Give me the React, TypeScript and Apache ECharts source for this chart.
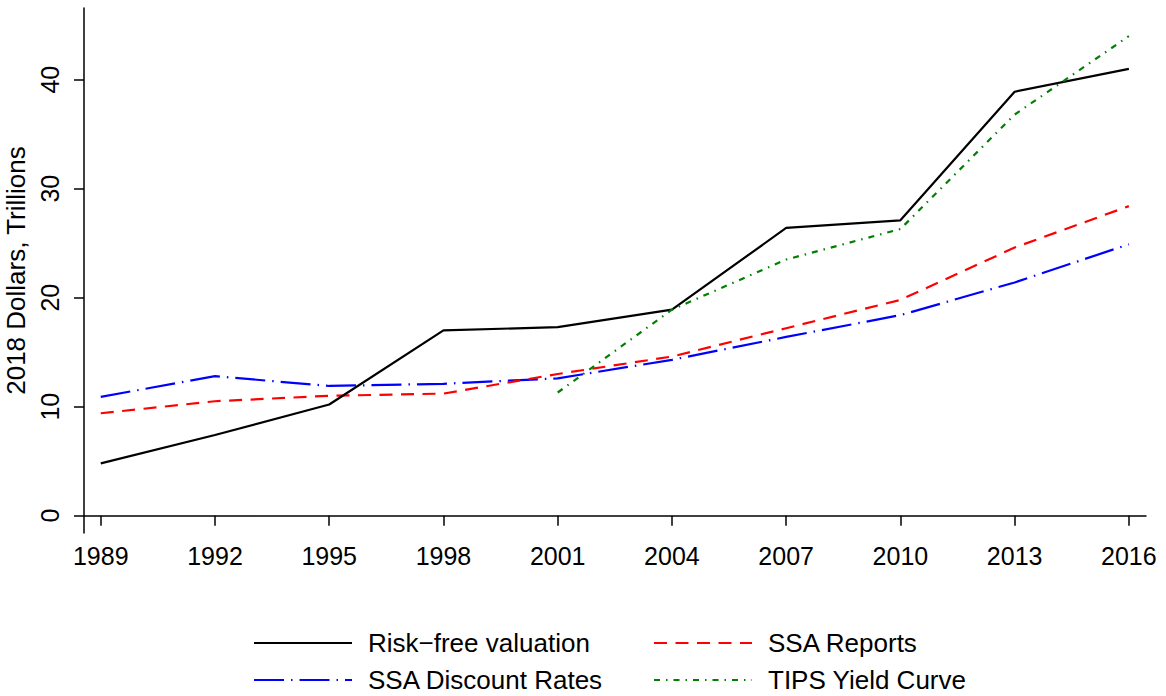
import React, { useEffect, useRef } from "react";
import * as echarts from "echarts";

const years = [1989, 1992, 1995, 1998, 2001, 2004, 2007, 2010, 2013, 2016];
const riskFree = [4.8, 7.4, 10.2, 17.0, 17.3, 18.9, 26.4, 27.1, 38.9, 41.0];
const ssaDiscount = [10.9, 12.8, 11.9, 12.1, 12.6, 14.3, 16.4, 18.4, 21.4, 24.9];
const ssaReports = [9.4, 10.5, 11.0, 11.2, 13.0, 14.6, 17.2, 19.8, 24.6, 28.4];
const tips = [null, null, null, null, 11.3, 18.9, 23.5, 26.3, 36.8, 44.0];
const yTicks = [0, 10, 20, 30, 40];

const FONT = "'Liberation Sans', Arial, sans-serif";

function pairs(vals: (number | null)[]) {
  return years
    .map((y, i) => [y, vals[i]])
    .filter((p) => p[1] !== null);
}

export default function App() {
  const ref = useRef<HTMLDivElement>(null);
  useEffect(() => {
    if (!ref.current) return;
    const chart = echarts.init(ref.current, null, { renderer: "svg" });
    const legendText = {
      color: "#000",
      fontSize: 26,
      fontFamily: FONT,
      lineHeight: 26,
      padding: [0, 0, 0, 11],
    };
    const legendCommon = {
      orient: "vertical",
      top: 630,
      height: 90,
      padding: 0,
      itemWidth: 98,
      itemHeight: 14,
      itemGap: 11,
      selectedMode: false,
      textStyle: legendText,
      itemStyle: { opacity: 0 },
    };
    chart.setOption({
      animation: false,
      backgroundColor: "#fff",
      grid: {
        left: 84,
        right: 20,
        top: 8,
        bottom: 163,
        containLabel: false,
        outerBoundsMode: "none",
      },
      xAxis: {
        type: "value",
        min: 1988.56,
        max: 2016.45,
        axisLine: { show: true, lineStyle: { color: "#000", width: 1.5 } },
        axisTick: {
          show: true,
          length: 10,
          customValues: years,
          lineStyle: { color: "#000", width: 1.5 },
        },
        axisLabel: {
          customValues: years,
          color: "#000",
          fontSize: 25,
          fontFamily: FONT,
          margin: 10,
          formatter: (v: number) => String(Math.round(v)),
        },
        splitLine: { show: false },
      },
      yAxis: {
        type: "value",
        min: -1.59,
        max: 46.58,
        name: "2018 Dollars, Trillions",
        nameLocation: "middle",
        nameRotate: 90,
        nameGap: 43,
        nameTextStyle: { color: "#000", fontSize: 26, fontFamily: FONT },
        axisLine: { show: true, lineStyle: { color: "#000", width: 1.5 } },
        axisTick: {
          show: true,
          length: 10,
          customValues: yTicks,
          lineStyle: { color: "#000", width: 1.5 },
        },
        axisLabel: {
          customValues: yTicks,
          rotate: 90,
          color: "#000",
          fontSize: 25,
          fontFamily: FONT,
          margin: 22,
        },
        splitLine: { show: false },
      },
      legend: [
        {
          ...legendCommon,
          left: 253,
          data: ["Risk\u2212free valuation", "SSA Discount Rates"],
        },
        {
          ...legendCommon,
          left: 653,
          data: ["SSA Reports", "TIPS Yield Curve"],
        },
      ],
      series: [
        {
          name: "Risk\u2212free valuation",
          type: "line",
          symbol: "none",
          data: pairs(riskFree),
          lineStyle: { color: "#000", width: 2.2, type: "solid" },
          itemStyle: { color: "#000" },
          z: 5,
        },
        {
          name: "SSA Discount Rates",
          type: "line",
          symbol: "none",
          data: pairs(ssaDiscount),
          lineStyle: { color: "#0000ff", width: 2.2, type: [30, 7, 1.5, 7] },
          itemStyle: { color: "#0000ff" },
          z: 3,
        },
        {
          name: "SSA Reports",
          type: "line",
          symbol: "none",
          data: pairs(ssaReports),
          lineStyle: { color: "#ff0000", width: 2.2, type: [13, 8.5] },
          itemStyle: { color: "#ff0000" },
          z: 4,
        },
        {
          name: "TIPS Yield Curve",
          type: "line",
          symbol: "none",
          data: pairs(tips),
          lineStyle: { color: "#008000", width: 2.2, type: [6, 6, 1.5, 6] },
          itemStyle: { color: "#008000" },
          z: 6,
        },
      ],
    });
    return () => chart.dispose();
  }, []);
  return (
    <div
      ref={ref}
      style={{ position: "fixed", left: 0, top: 0, width: 1166, height: 696, background: "#fff" }}
    />
  );
}
